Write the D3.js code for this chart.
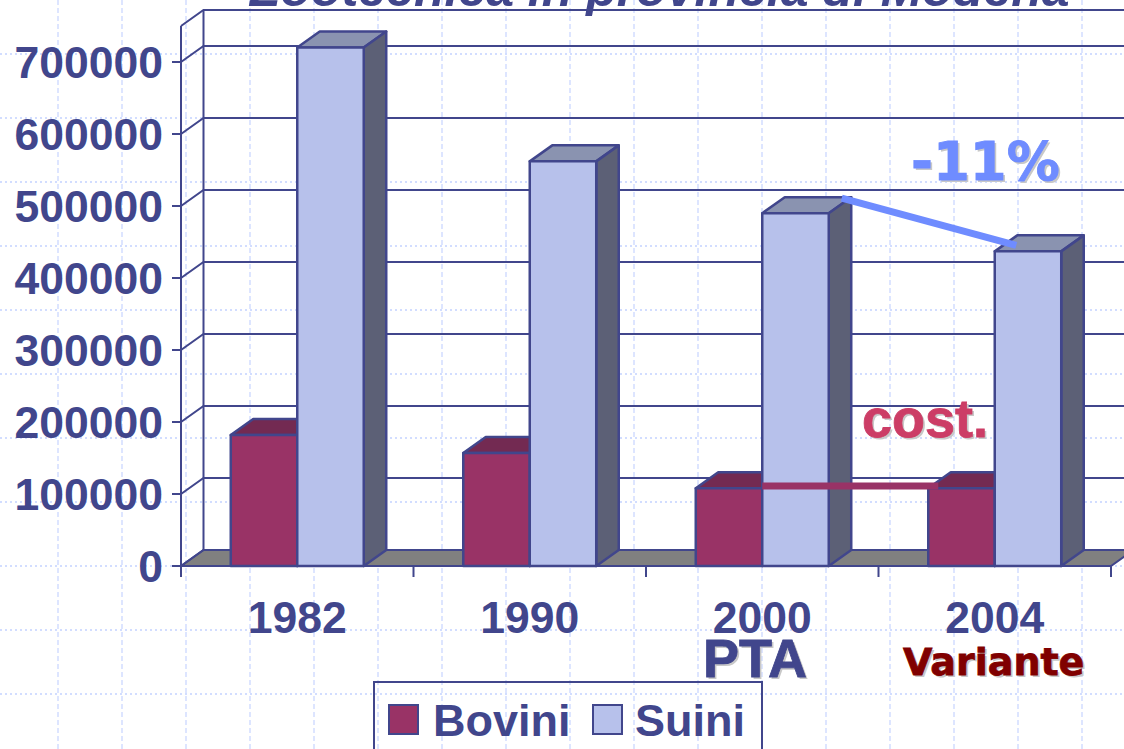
<!DOCTYPE html>
<html>
<head>
<meta charset="utf-8">
<script src="https://d3js.org/d3.v7.min.js"></script>
<style>
    html, body { margin: 0; padding: 0; background: #fff; overflow: hidden; }
    svg { display: block; }
    text { font-family: "Liberation Sans", Arial, sans-serif; font-weight: bold; }
    .axis .domain { display: none; }
    .axis line { stroke: #41468c; stroke-width: 2px; }
    .axis text { fill: #41468c; font-size: 44.5px; }
    .edge { fill: none; stroke: #41468c; stroke-width: 2px; }
    .bar path { stroke: #41468c; stroke-width: 2.5px; stroke-linejoin: round; }
</style>
</head>
<body>
<div id="chart"></div>
<script>
    var years = ["1982", "1990", "2000", "2004"];
    var series = ["Bovini", "Suini"];
    var bovini = [182000, 157000, 108000, 108000];
    var suini = [720000, 562000, 490000, 437000];
    var yTicks = [0, 100000, 200000, 300000, 400000, 500000, 600000, 700000];
    var yMax = 750000;

    var frontColors = {Bovini: "#993366", Suini: "#b7c1eb"};
    var topColors = {Bovini: "#732a52", Suini: "#8a93b0"};
    var sideColors = {Bovini: "#732a52", Suini: "#5c6076"};

    var W = 1124, H = 749;
    var left = 181, right = 1111, base = 566;
    // offset of the back wall from the front plane
    var depthX = 22.5, depthY = 16;

    var svg = d3.select("#chart").append("svg").attr("width", W).attr("height", H);

    var x0 = d3.scaleBand().domain(years).range([left, right]).paddingInner(0.428).paddingOuter(0.214);
    var x1 = d3.scaleBand().domain(series).range([0, x0.bandwidth()]);
    var y = d3.scaleLinear().domain([0, yMax]).range([base, base - 540]);
    var xEdge = d3.scaleLinear().domain([0, years.length]).range([left, right]);

    // dotted sheet behind the chart
    var sheet = svg.append("g").attr("stroke", "#d2ddff");
    sheet.selectAll("line.h").data(d3.range(-1, 11)).enter().append("line")
        .attr("x1", 0).attr("x2", W)
        .attr("y1", function(d) { return 694 - d * 64; })
        .attr("y2", function(d) { return 694 - d * 64; })
        .attr("stroke-width", 2)
        .attr("stroke-dasharray", "2 3");
    sheet.selectAll("line.v").data(d3.range(0, 18)).enter().append("line")
        .attr("y1", 0).attr("y2", H)
        .attr("x1", function(d) { return 58 + d * 64; })
        .attr("x2", function(d) { return 58 + d * 64; })
        .attr("stroke-dasharray", "5 3")
        .attr("stroke-width", 1.5);

    // title, cropped by the top of the page
    svg.append("text")
        .attr("x", 250).attr("y", 6)
        .attr("font-size", 50)
        .attr("font-style", "italic")
        .attr("fill", "#41468c")
        .text("Zootecnica in provincia di Modena");

    // floor
    svg.append("path")
        .attr("d", "M" + left + "," + base + "L" + (left + depthX) + "," + (base - depthY) +
            "H" + (right + depthX) + "L" + right + "," + base + "Z")
        .attr("fill", "#808080").attr("stroke", "#41468c").attr("stroke-width", 2);

    // walls
    var walls = svg.append("g");
    yTicks.concat([yMax]).forEach(function(t) {
        walls.append("path").attr("class", "edge")
            .attr("d", "M" + left + "," + y(t) + "L" + (left + depthX) + "," + (y(t) - depthY) + "H" + (right + depthX));
    });
    walls.append("path").attr("class", "edge")
        .attr("d", "M" + left + "," + y(0) + "V" + y(yMax));
    walls.append("path").attr("class", "edge")
        .attr("d", "M" + (left + depthX) + "," + (y(0) - depthY) + "V" + (y(yMax) - depthY));

    // axes
    var yAxis = svg.append("g").attr("class", "axis")
        .attr("transform", "translate(" + left + ",0)")
        .call(d3.axisLeft(y).tickValues(yTicks).tickSize(9).tickPadding(9).offset(0).tickFormat(d3.format("d")));
    yAxis.selectAll("text").attr("dy", "0.36em");

    svg.append("g").attr("class", "axis")
        .attr("transform", "translate(0," + base + ")")
        .call(d3.axisBottom(xEdge).ticks(years.length).tickSize(11).offset(0).tickFormat(""));

    svg.append("g").attr("class", "axis")
        .attr("transform", "translate(0," + base + ")")
        .call(d3.axisBottom(x0).tickSize(0).tickPadding(35).offset(0));
    svg.selectAll(".axis line").filter(function() { return this.getAttribute("y2") === "0"; }).remove();

    // 3d bars
    var rows = years.map(function(year, i) {
        return [{year: year, key: "Bovini", value: bovini[i]}, {year: year, key: "Suini", value: suini[i]}];
    });
    var groups = svg.selectAll("g.group").data(rows).enter().append("g").attr("class", "group");
    var bar = groups.selectAll("g.bar").data(function(d) { return d; }).enter().append("g").attr("class", "bar");

    function xa(d) { return x0(d.year) + x1(d.key); }
    function xb(d) { return xa(d) + x1.bandwidth(); }

    bar.append("path")
        .attr("fill", function(d) { return topColors[d.key]; })
        .attr("d", function(d) {
            return "M" + xa(d) + "," + y(d.value) + "L" + (xa(d) + depthX) + "," + (y(d.value) - depthY) +
                "H" + (xb(d) + depthX) + "L" + xb(d) + "," + y(d.value) + "Z";
        });
    bar.append("path")
        .attr("fill", function(d) { return sideColors[d.key]; })
        .attr("d", function(d) {
            return "M" + xb(d) + "," + y(d.value) + "L" + (xb(d) + depthX) + "," + (y(d.value) - depthY) +
                "V" + (y(0) - depthY) + "L" + xb(d) + "," + y(0) + "Z";
        });
    bar.append("path")
        .attr("fill", function(d) { return frontColors[d.key]; })
        .attr("d", function(d) {
            return "M" + xa(d) + "," + y(d.value) + "H" + xb(d) + "V" + y(0) + "H" + xa(d) + "Z";
        });

    // annotation lines
    svg.append("line")
        .attr("x1", x0("2000") + x1("Suini"))
        .attr("x2", x0("2004") + 10)
        .attr("y1", y(111000)).attr("y2", y(111000))
        .attr("stroke", "#993366").attr("stroke-width", 7);
    svg.append("line")
        .attr("x1", x0("2000") + x1("Suini") + x1.bandwidth() + 13)
        .attr("y1", y(490000) - 15)
        .attr("x2", x0("2004") + x1("Suini") + x1.bandwidth() - 45)
        .attr("y2", y(437000) - 6)
        .attr("stroke", "#6f8cff").attr("stroke-width", 7);

    // labels with a soft shadow
    var wide = '"DejaVu Sans", sans-serif';
    var notes = [
        {text: "-11%", x: 911, y: 180, size: 53, color: "#6f8cff", font: wide},
        {text: "cost.", x: 862, y: 437, size: 54, color: "#cc3d66", font: null},
        {text: "PTA", x: 703, y: 677, size: 54, color: "#41468c", font: null},
        {text: "Variante", x: 903, y: 675, size: 38, color: "#800000", font: wide}
    ];
    var noteG = svg.selectAll("g.note").data(notes).enter().append("g").attr("class", "note");
    noteG.append("text")
        .attr("x", function(d) { return d.x + 2; })
        .attr("y", function(d) { return d.y + 2; })
        .attr("font-size", function(d) { return d.size; })
        .style("font-family", function(d) { return d.font; })
        .attr("fill", "#c8c8c8")
        .text(function(d) { return d.text; });
    noteG.append("text")
        .attr("x", function(d) { return d.x; })
        .attr("y", function(d) { return d.y; })
        .attr("font-size", function(d) { return d.size; })
        .style("font-family", function(d) { return d.font; })
        .attr("fill", function(d) { return d.color; })
        .attr("stroke", function(d) { return d.color; })
        .attr("stroke-width", 0.8)
        .text(function(d) { return d.text; });

    // legend
    svg.append("rect")
        .attr("x", 374).attr("y", 682).attr("width", 388).attr("height", 80)
        .attr("fill", "none").attr("stroke", "#41468c").attr("stroke-width", 2);
    var legendX = {Bovini: 389, Suini: 593};
    var legend = svg.selectAll("g.legend").data(series).enter().append("g").attr("class", "legend");
    legend.append("rect")
        .attr("x", function(d) { return legendX[d]; })
        .attr("y", 705).attr("width", 29).attr("height", 29)
        .attr("fill", function(d) { return frontColors[d]; })
        .attr("stroke", "#41468c").attr("stroke-width", 2);
    legend.append("text")
        .attr("x", function(d) { return legendX[d] + (d === "Suini" ? 42 : 44); })
        .attr("y", 736)
        .attr("font-size", 45)
        .attr("fill", "#41468c")
        .text(function(d) { return d; });
</script>
</body>
</html>
